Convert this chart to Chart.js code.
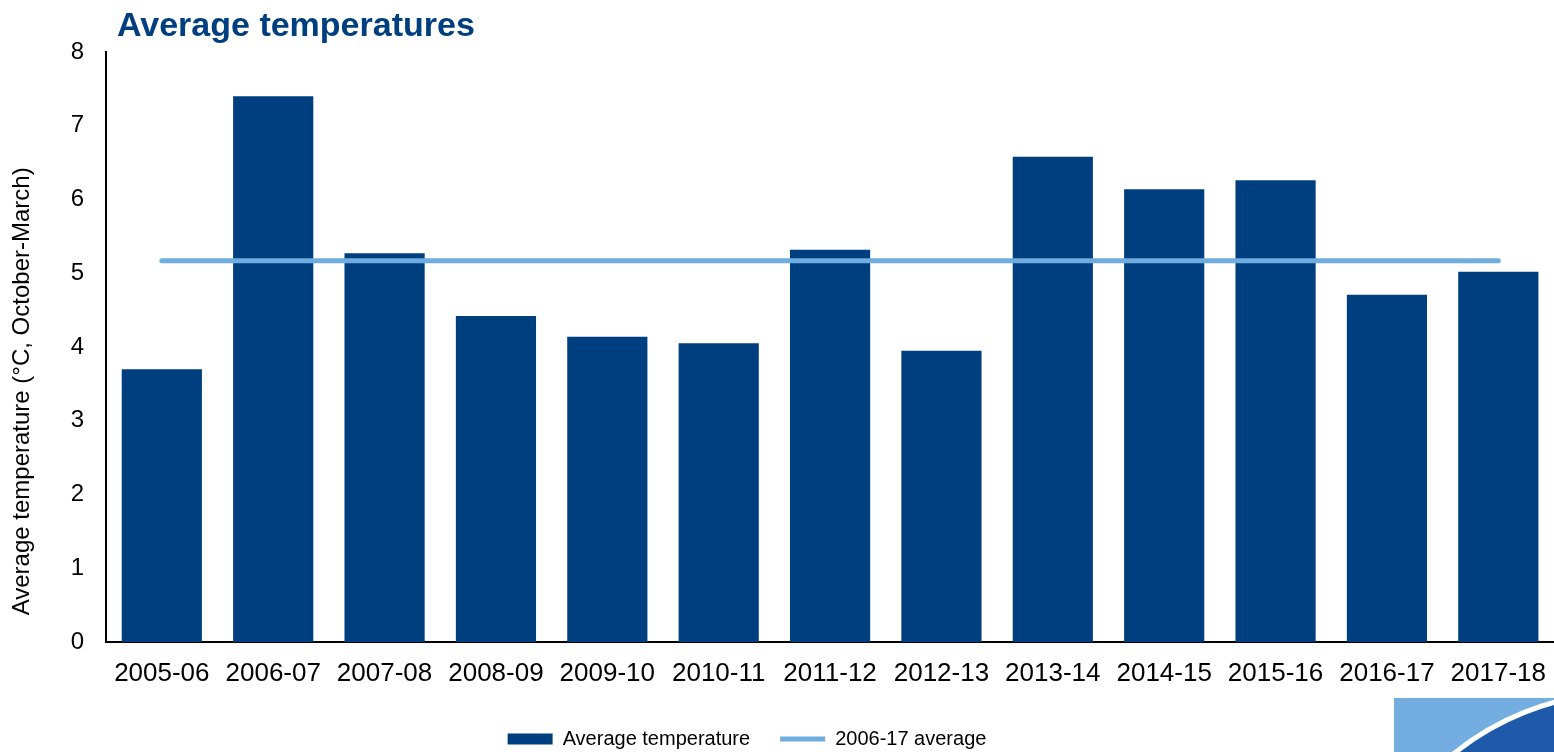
<!DOCTYPE html>
<html lang="en">
<head>
    <meta charset="UTF-8">
    <title>Average temperatures</title>
    <script src="https://cdn.jsdelivr.net/npm/chart.js"></script>
    <style>
        body {
            margin: 0;
            font-family: Arial, "Liberation Sans", sans-serif;
            overflow: hidden;
        }
        .wrap {
            position: relative;
            width: 1554px;
            height: 752px;
        }
        .title {
            position: absolute;
            left: 117px;
            top: 5px;
            font-size: 34px;
            font-weight: bold;
            color: #003F7F;
        }
        .logo {
            position: absolute;
            left: 1394px;
            top: 698px;
        }
    </style>
</head>
<body>

<div class="wrap">
    <canvas id="tempChart" width="1554" height="752"></canvas>
    <div class="title">Average temperatures</div>
    <svg class="logo" width="160" height="54">
        <rect x="0" y="0" width="160" height="54" fill="#74AEE0"/>
        <circle cx="231" cy="267" r="272" fill="#1F5AAA" stroke="#ffffff" stroke-width="5"/>
    </svg>
</div>

<script>
const seasons = ['2005-06', '2006-07', '2007-08', '2008-09', '2009-10', '2010-11', '2011-12',
                 '2012-13', '2013-14', '2014-15', '2015-16', '2016-17', '2017-18'];
const avgTemps = [3.70, 7.40, 5.27, 4.42, 4.14, 4.05, 5.32, 3.95, 6.58, 6.14, 6.26, 4.71, 5.02];
const longTermAvg = 5.17;
const yTicks = [0, 1, 2, 3, 4, 5, 6, 7, 8];

const darkBlue = '#003F7F';
const lightBlue = '#6FADE0';
const font = "Arial, 'Liberation Sans', sans-serif";

// the original legend sits a bit left of the page centre
const legendShift = {
    id: 'legendShift',
    afterLayout(chart) {
        chart.legend.left -= 36;
        chart.legend.right -= 36;
    }
};

const ctx = document.getElementById('tempChart').getContext('2d');
new Chart(ctx, {
    type: 'bar',
    data: {
        labels: seasons,
        datasets: [
            {
                label: 'Average temperature',
                data: avgTemps,
                backgroundColor: darkBlue,
                borderWidth: 0,
                barPercentage: 0.72,
                categoryPercentage: 1.0,
                order: 2
            },
            {
                type: 'line',
                label: '2006-17 average',
                data: seasons.map(() => longTermAvg),
                borderColor: lightBlue,
                backgroundColor: lightBlue,
                borderWidth: 5,
                borderCapStyle: 'round',
                pointRadius: 0,
                fill: false,
                order: 1
            }
        ]
    },
    plugins: [legendShift],
    options: {
        responsive: false,
        animation: false,
        // plot runs a few px past the right edge and the legend sits low, hence the negatives
        layout: { padding: { top: 52, right: -4, left: 8, bottom: -7 } },
        plugins: {
            tooltip: { enabled: false },
            legend: {
                position: 'bottom',
                labels: {
                    color: '#000',
                    font: { family: font, size: 20 },
                    usePointStyle: true,
                    pointStyleWidth: 45,
                    boxHeight: 11,
                    padding: 30,
                    sort: (a, b) => a.datasetIndex - b.datasetIndex,
                    generateLabels: chart => {
                        const items = Chart.defaults.plugins.legend.labels.generateLabels(chart);
                        items.forEach(it => {
                            if (it.datasetIndex === 0) {
                                it.pointStyle = 'rect';
                                it.lineWidth = 0;
                                it.fillStyle = darkBlue;
                            } else {
                                it.pointStyle = 'line';
                                it.lineWidth = 5;
                                it.strokeStyle = lightBlue;
                            }
                        });
                        return items;
                    }
                }
            }
        },
        scales: {
            x: {
                grid: { display: false, drawTicks: false },
                border: { display: true, color: '#000', width: 2 },
                ticks: { color: '#000', font: { family: font, size: 26 }, padding: 16, maxRotation: 0, autoSkip: false },
                afterFit: axis => {
                    axis.height = 57;
                    axis.paddingLeft = 0;
                    axis.paddingRight = 0;
                }
            },
            y: {
                min: 0,
                max: 8,
                afterBuildTicks: axis => { axis.ticks = yTicks.map(v => ({ value: v })); },
                grid: { display: false, drawTicks: false },
                border: { display: true, color: '#000', width: 2 },
                ticks: { color: '#000', font: { family: font, size: 24 }, padding: 22 },
                title: {
                    display: true,
                    align: 'start',
                    text: '    Average temperature (°C, October-March)',
                    color: '#000',
                    font: { family: font, size: 24 },
                    padding: { top: 0, bottom: 12 }
                }
            }
        }
    }
});
</script>

</body>
</html>
